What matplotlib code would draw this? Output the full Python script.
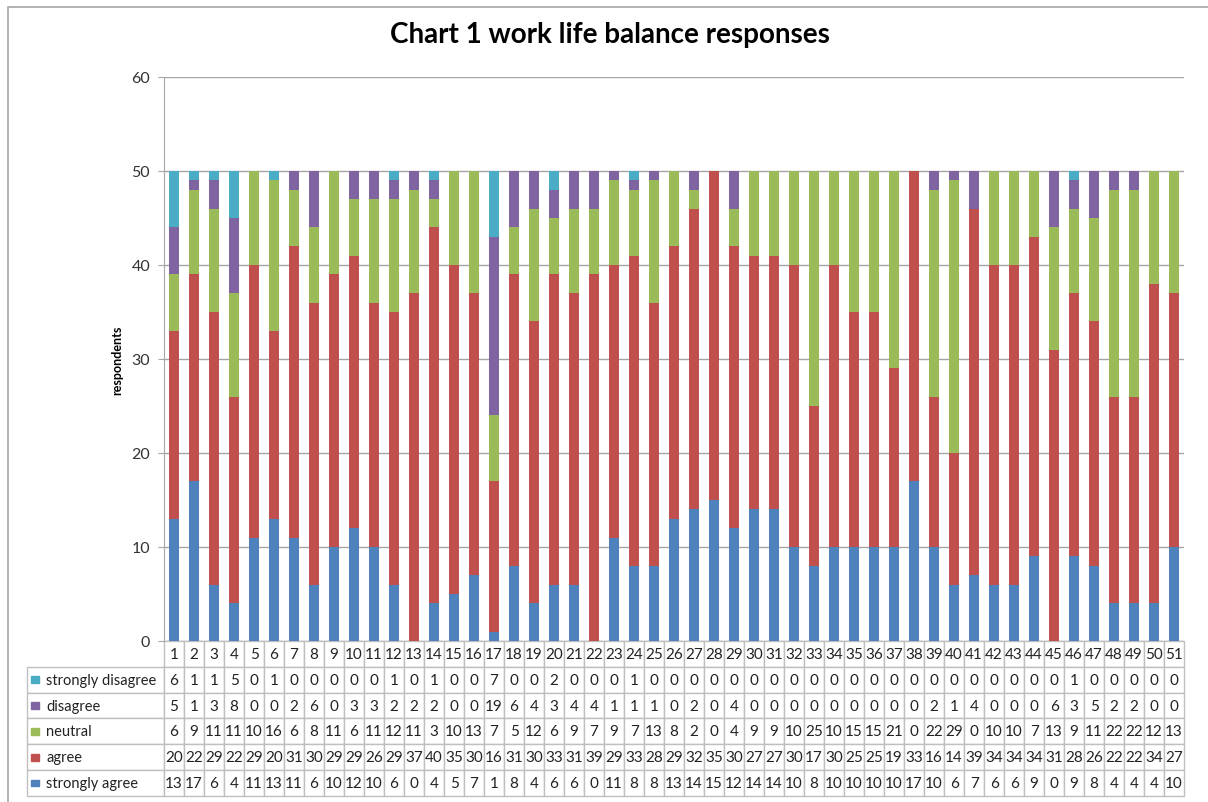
import numpy as np
import matplotlib.pyplot as plt
from matplotlib.patches import Rectangle

plt.rcParams['font.family'] = ['Lato', 'DejaVu Sans']

respondents = [str(i) for i in range(1, 52)]
series = ['strongly disagree', 'disagree', 'neutral', 'agree', 'strongly agree']
colors = ['#4BACC6', '#8064A2', '#9BBB59', '#C0504D', '#4F81BD']

strongly_disagree = [6, 1, 1, 5, 0, 1, 0, 0, 0, 0, 0, 1, 0, 1, 0, 0, 7, 0, 0, 2, 0, 0, 0, 1, 0, 0,
                     0, 0, 0, 0, 0, 0, 0, 0, 0, 0, 0, 0, 0, 0, 0, 0, 0, 0, 0, 1, 0, 0, 0, 0, 0]
disagree = [5, 1, 3, 8, 0, 0, 2, 6, 0, 3, 3, 2, 2, 2, 0, 0, 19, 6, 4, 3, 4, 4, 1, 1, 1, 0,
            2, 0, 4, 0, 0, 0, 0, 0, 0, 0, 0, 0, 2, 1, 4, 0, 0, 0, 6, 3, 5, 2, 2, 0, 0]
neutral = [6, 9, 11, 11, 10, 16, 6, 8, 11, 6, 11, 12, 11, 3, 10, 13, 7, 5, 12, 6, 9, 7, 9, 7, 13, 8,
           2, 0, 4, 9, 9, 10, 25, 10, 15, 15, 21, 0, 22, 29, 0, 10, 10, 7, 13, 9, 11, 22, 22, 12, 13]
agree = [20, 22, 29, 22, 29, 20, 31, 30, 29, 29, 26, 29, 37, 40, 35, 30, 16, 31, 30, 33, 31, 39, 29, 33, 28, 29,
         32, 35, 30, 27, 27, 30, 17, 30, 25, 25, 19, 33, 16, 14, 39, 34, 34, 34, 31, 28, 26, 22, 22, 34, 27]
strongly_agree = [13, 17, 6, 4, 11, 13, 11, 6, 10, 12, 10, 6, 0, 4, 5, 7, 1, 8, 4, 6, 6, 0, 11, 8, 8, 13,
                  14, 15, 12, 14, 14, 10, 8, 10, 10, 10, 10, 17, 10, 6, 7, 6, 6, 9, 0, 9, 8, 4, 4, 4, 10]

rows = [strongly_disagree, disagree, neutral, agree, strongly_agree]

fig = plt.figure(figsize=(12.08, 8.03), dpi=100)
fig.patches.append(Rectangle((0.007, -0.01), 1.0, 1.0, transform=fig.transFigure,
                             fill=False, edgecolor='#A6A6A6', linewidth=1.2))
ax = fig.add_axes([0.1358, 0.2005, 0.8444, 0.7024])

x = np.arange(1, len(respondents) + 1)
bottom = np.zeros(len(x))
# stack from the bottom: strongly agree first
for name, vals, col in reversed(list(zip(series, rows, colors))):
    ax.bar(x, vals, 0.52, bottom=bottom, color=col, label=name, zorder=3)
    bottom += np.array(vals)

ax.set_xlim(0.5, len(x) + 0.5)
ax.set_ylim(0, 60)
ax.set_yticks(range(0, 61, 10))
ax.yaxis.grid(True, color='#A6A6A6', linewidth=1.0, zorder=0)
ax.set_xticks([])
for s in ['top', 'right', 'bottom']:
    ax.spines[s].set_visible(False)
ax.spines['left'].set_color('#A6A6A6')
ax.tick_params(axis='y', length=4, color='#A6A6A6', labelsize=11.5, labelcolor='#333333', pad=6)
ax.set_ylabel('respondents', fontsize=9, fontweight='bold', labelpad=6)

fig.suptitle('Chart 1 work life balance responses', fontsize=20, fontweight='bold', x=0.505, y=0.972)

# data table under the bars, first column holds the series names
label_w = (164 - 27) / 1020.0
col_w = 1.0 / len(x)
cell_text = [[s] + [str(v) for v in r] for s, r in zip(series, rows)]
tbl = ax.table(cellText=cell_text, colLabels=[''] + respondents, cellLoc='center',
               colWidths=[label_w] + [col_w] * len(x),
               bbox=[-label_w, -0.2748, 1 + label_w, 0.2748])
tbl.auto_set_font_size(False)
tbl.set_fontsize(11)
for (r, c), cell in tbl.get_celld().items():
    cell.set_edgecolor('#BFBFBF')
    cell.set_linewidth(1.0)
    cell.get_text().set_color('#222222')
    if c == 0:
        cell._loc = 'left'
        cell.PAD = 0.14
        cell.get_text().set_ha('left')
        cell.get_text().set_fontsize(10.5)
        if r == 0:
            cell.visible_edges = ''

# legend keys in the row labels
row_h = 0.2748 / 6
for i, col in enumerate(colors):
    yc = -row_h * (1.5 + i)
    ax.add_patch(Rectangle((-label_w + 0.0035, yc - 0.006), 0.0085, 0.012,
                           transform=ax.transAxes, color=col, clip_on=False, zorder=5))

fig.savefig('out.png', dpi=100)
